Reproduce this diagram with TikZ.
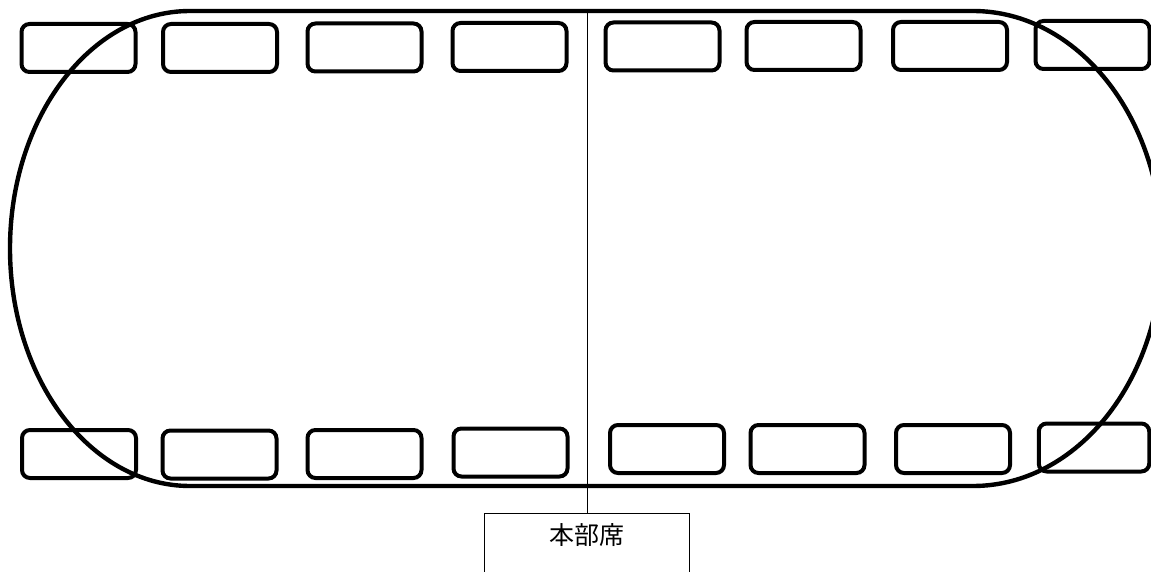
\documentclass[tikz,border=0pt]{standalone}
\usepackage{fontspec}
\newfontfamily\cjk{Noto Sans CJK JP}
\begin{document}
\begin{tikzpicture}[x=1pt,y=1pt,
  seat/.style={draw=black, line width=4pt, rounded corners=8pt, minimum width=114pt, minimum height=48pt, inner sep=0pt},
  oval/.style={draw=black, line width=4.4pt},
  hqbox/.style={draw=black, line width=1pt, minimum width=205pt, minimum height=80pt, inner sep=0pt},
  divider/.style={draw=black, line width=1.3pt}]
\useasboundingbox (0,0) rectangle (1151,571);
\clip (0,0) rectangle (1151,571);
% track / table outline
\draw[oval] (190,560) -- (973,560)
  arc[start angle=90, end angle=-90, x radius=189pt, y radius=237.5pt]
  -- (190,85)
  arc[start angle=270, end angle=90, x radius=180pt, y radius=237.5pt]
  -- cycle;
% top row seats
\node[seat] (t1) at (78.5,523) {};
\node[seat] (t2) at (220,523) {};
\node[seat] (t3) at (364.5,523.5) {};
\node[seat] (t4) at (509.5,524) {};
\node[seat] (t5) at (662.5,524.5) {};
\node[seat] (t6) at (803.5,525) {};
\node[seat] (t7) at (950,525) {};
\node[seat] (t8) at (1092.5,526) {};
% bottom row seats
\node[seat] (b1) at (79,117) {};
\node[seat] (b2) at (219.5,116.5) {};
\node[seat] (b3) at (364.5,117) {};
\node[seat] (b4) at (510.5,118.5) {};
\node[seat] (b5) at (667,122) {};
\node[seat] (b6) at (807.5,122) {};
\node[seat] (b7) at (953,122) {};
\node[seat, minimum width=110.5pt] (b8) at (1094,123.5) {};
% headquarters
\node[hqbox, anchor=north] (hq) at (586.5,58) {};
\node[font=\cjk\fontsize{25}{28}\selectfont, inner sep=0pt] (hqlabel) at (587,36) {本部席};
\coordinate (top) at (587.5,560);
\draw[divider] (top) -- (hq.north -| top);
\end{tikzpicture}
\end{document}
